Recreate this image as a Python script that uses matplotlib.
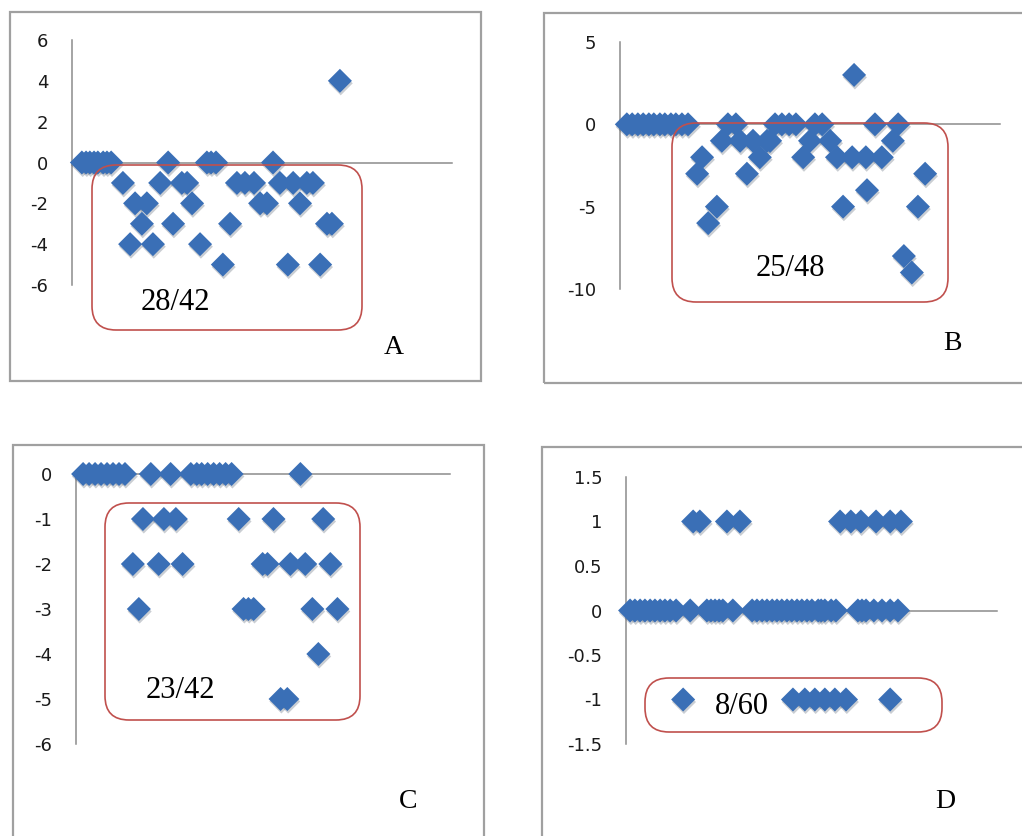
import matplotlib
matplotlib.use("Agg")
import matplotlib.pyplot as plt
from matplotlib.patches import Rectangle, FancyBboxPatch
from matplotlib import patheffects as pe

plt.rcParams["axes.unicode_minus"] = False

W, H = 1022, 836

# panel A: 28 of 42 below zero
a_x = [2.6, 3.7, 4.7, 5.8, 6.8, 8.2, 9.2, 10.3, 25.3, 35.5, 36.6, 37.9, 52.9,
       70.5,
       13.4, 23.2, 28.9, 30.3, 43.4, 45.5, 47.9, 54.7, 58.2, 61.8, 63.4,
       16.6, 19.7, 31.6, 49.5, 51.3, 60.0,
       18.4, 26.6, 41.6, 67.1, 68.4,
       15.3, 21.3, 33.7,
       39.7, 56.8, 65.3]
a_y = [0] * 13 + [4] + [-1] * 11 + [-2] * 6 + [-3] * 5 + [-4] * 3 + [-5] * 3

# panel B: 25 of 48 below zero
b_x = [1.8, 3.2, 4.7, 6.1, 7.6, 8.9, 10.5, 11.8, 13.4, 14.7, 16.3, 17.9,
       28.4, 30.5, 40.8, 42.6, 44.5, 46.3, 51.3, 53.2, 67.1, 73.2,
       61.6,
       26.8, 31.6, 35.0, 38.7, 39.5, 50.0, 55.3, 71.8,
       21.6, 36.8, 48.2, 57.1, 61.1, 64.7, 68.9,
       20.3, 33.4, 80.3,
       65.0,
       25.5, 58.7, 78.4,
       23.2, 74.7, 76.8]
b_y = [0] * 22 + [3] + [-1] * 8 + [-2] * 7 + [-3] * 3 + [-4] + [-5] * 3 + [-6, -8, -9]

# panel C: 23 of 42 below zero
c_x = [1.9, 3.5, 5.1, 6.7, 8.3, 9.9, 11.5, 13.1, 20.0, 25.3,
       30.7, 32.3, 33.6, 35.2, 36.8, 38.4, 40.0, 41.6, 60.0,
       17.9, 23.5, 26.7, 43.5, 52.8, 66.1,
       15.2, 22.1, 28.5, 49.9, 51.2, 57.3, 61.3, 68.0,
       16.8, 44.8, 46.1, 47.5, 63.2, 69.9,
       64.8,
       54.7, 56.5]
c_y = [0] * 19 + [-1] * 6 + [-2] * 8 + [-3] * 6 + [-4] + [-5] * 2

# panel D: 8 of 60 below zero
d_x = [1.1, 2.4, 3.8, 5.1, 6.5, 7.8, 9.2, 10.5, 11.9, 13.5, 17.3,
       21.8, 22.9, 24.0, 25.1, 26.1, 28.8,
       34.0, 35.3, 36.7, 38.0, 39.4, 40.7, 42.0, 43.4, 44.7, 46.1, 47.4,
       48.8, 50.1, 51.8, 52.6, 53.6, 55.3, 56.6,
       62.5, 63.6, 64.7, 66.8, 69.0, 71.2, 73.3,
       18.1, 19.9, 27.2, 30.7, 57.7, 60.6, 63.3, 67.4, 71.2, 74.1,
       15.4, 45.0, 48.2, 50.9, 53.6, 56.3, 59.3, 71.2]
d_y = [0] * 42 + [1] * 10 + [-1] * 8

panels = [
    # x, y, yticks, tick labels, axes box in px (left, top, right, bottom), label, note
    (a_x, a_y, [6, 4, 2, 0, -2, -4, -6], ["6", "4", "2", "0", "-2", "-4", "-6"],
     (72, 40, 452, 285), "A", "28/42"),
    (b_x, b_y, [5, 0, -5, -10], ["5", "0", "-5", "-10"],
     (620, 42, 1000, 289), "B", "25/48"),
    (c_x, c_y, [0, -1, -2, -3, -4, -5, -6], ["0", "-1", "-2", "-3", "-4", "-5", "-6"],
     (76, 474, 450, 744), "C", "23/42"),
    (d_x, d_y, [1.5, 1, 0.5, 0, -0.5, -1, -1.5],
     ["1.5", "1", "0.5", "0", "-0.5", "-1", "-1.5"],
     (626, 477, 997, 744), "D", "8/60"),
]

frames = [(10, 12, 481, 381), (544, 13, 1030, 383), (13, 445, 484, 850), (542, 447, 1030, 850)]
notes = [(92, 165, 362, 330, 175, 303), (672, 123, 948, 302, 790, 268),
         (105, 503, 360, 720, 180, 690), (645, 678, 942, 732, 742, 706)]
letters = [(394, 347), (952, 343), (408, 802), (945, 802)]

fig = plt.figure(figsize=(W / 100, H / 100), dpi=100)


def fx(px):
    return px / W


def fy(py):
    return 1 - py / H


blue = "#3a6fb6"
grey = "#8c8c8c"

for i, (xs, ys, ticks, labels, box, letter, note) in enumerate(panels):
    l, t, r, b = box
    ax = fig.add_axes([fx(l), fy(b), fx(r - l), fy(t) - fy(b)])
    ax.scatter(xs, ys, marker="D", s=150, color=blue, linewidths=0, clip_on=False, zorder=3,
               path_effects=[pe.SimplePatchShadow(offset=(0.6, -1.8), alpha=0.22), pe.Normal()])
    ax.set_xlim(0, 100)
    ax.set_ylim(ticks[-1], ticks[0])
    ax.set_yticks(ticks)
    ax.set_yticklabels(labels)
    ax.set_xticks([])
    ax.tick_params(axis="y", length=0, pad=17, labelsize=13, labelcolor="#1a1a1a")
    for s in ["top", "right"]:
        ax.spines[s].set_visible(False)
    ax.spines["bottom"].set_position(("data", 0))
    for s in ["left", "bottom"]:
        ax.spines[s].set_color(grey)
        ax.spines[s].set_linewidth(1.1)
    ax.patch.set_alpha(0)

    fl, ft, fr, fb = frames[i]
    fig.patches.append(Rectangle((fx(fl), fy(fb)), fx(fr - fl), fy(ft) - fy(fb),
                                 transform=fig.transFigure, fill=False,
                                 edgecolor="#a0a0a0", linewidth=1.6, zorder=0))

    nl, nt, nr, nb, tx, ty = notes[i]
    fig.patches.append(FancyBboxPatch((nl, H - nb), nr - nl, nb - nt,
                                      boxstyle="round,pad=0,rounding_size=24",
                                      transform=None, fill=False,
                                      edgecolor="#c0504d", linewidth=1.2, zorder=5))
    fig.text(fx(tx), fy(ty), note, ha="center", va="center", fontsize=22,
             family="Liberation Serif", zorder=6)
    lx, ly = letters[i]
    fig.text(fx(lx), fy(ly), letter, ha="center", va="center", fontsize=20,
             family="Liberation Serif", zorder=6)

fig.savefig("out.png", dpi=100)
